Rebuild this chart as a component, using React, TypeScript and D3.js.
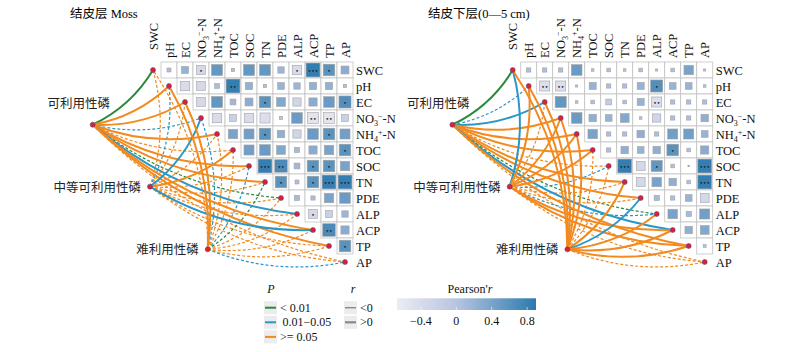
import React, { useRef, useEffect } from 'react';
import * as d3 from 'd3';

// variables of the correlation matrix (same order on top and right)
const variables = ["SWC", "pH", "EC", "NO3", "NH4", "TOC", "SOC", "TN", "PDE", "ALP", "ACP", "TP", "AP"];
// phosphorus fractions (Mantel test side)
const sources = ["可利用性磷", "中等可利用性磷", "难利用性磷"];

// Pearson r, upper triangle: row i against columns i+1..12
const mossR = [
  [0.07, 0.22, -0.36, 0.54, 0.05, 0.54, 0.54, 0.18, -0.4, 0.86, 0.6, 0.28],
  [-0.4, -0.35, 0.1, 0.85, 0.24, 0.05, 0.2, 0.18, 0.24, 0.24, 0.05],
  [-0.35, 0.55, 0.15, 0.28, 0.6, 0.35, -0.3, 0.3, 0.5, 0.65],
  [-0.4, -0.2, -0.4, -0.45, -0.05, 0.5, -0.55, -0.55, -0.2],
  [0.4, 0.45, 0.6, 0.25, -0.3, 0.5, 0.6, 0.45],
  [0.45, 0.5, 0.35, 0.12, 0.3, 0.4, 0.6],
  [0.85, 0.7, 0.15, 0.6, 0.6, 0.4],
  [0.6, 0.07, 0.6, 0.85, 0.85],
  [0.12, 0.08, 0.4, 0.5],
  [-0.35, -0.2, 0.18],
  [0.7, 0.3],
  [0.6],
];
// number of significance marks
const mossStars = [
  [0, 0, 1, 0, 0, 0, 0, 0, 1, 3, 1, 0],
  [0, 0, 0, 2, 0, 0, 0, 0, 0, 0, 0],
  [0, 0, 0, 0, 1, 0, 0, 0, 0, 1],
  [0, 0, 0, 0, 0, 0, 2, 2, 0],
  [0, 0, 1, 0, 0, 0, 1, 0],
  [0, 0, 0, 0, 0, 0, 1],
  [3, 2, 0, 1, 1, 0],
  [1, 0, 1, 3, 3],
  [0, 0, 0, 0],
  [1, 0, 0],
  [2, 0],
  [1],
];

const crustR = [
  [0.08, 0.08, 0.08, 0.5, 0.03, 0.06, 0.03, 0.06, 0.02, 0.06, 0.4, 0.02],
  [-0.45, -0.45, 0.02, 0.22, 0.08, 0.08, 0.22, 0.65, 0.2, 0.2, 0.03],
  [0.55, 0.03, 0.06, -0.15, 0.06, 0.22, -0.45, 0.08, 0.08, 0.08],
  [0.5, 0.25, 0.2, 0.35, 0.03, -0.3, 0.08, 0.08, 0.25],
  [0.4, 0.08, 0.08, 0.25, 0.08, 0.45, 0.45, 0.2],
  [0.08, 0.25, 0.2, 0.25, 0.6, 0.06, 0.3],
  [0.85, -0.35, 0.55, 0.06, 0.01, 0.85],
  [-0.35, 0.4, 0.25, 0.06, 0.85],
  [0.12, 0.08, 0.2, -0.35],
  [0.4, 0.12, 0.45],
  [0.25, 0.35],
  [0.04],
];
const crustStars = [
  [0, 0, 0, 0, 0, 0, 0, 0, 0, 0, 0, 0],
  [2, 2, 0, 0, 0, 0, 0, 1, 0, 0, 0],
  [0, 0, 0, 0, 0, 0, 2, 0, 0, 0],
  [0, 0, 0, 0, 0, 0, 0, 0, 0],
  [0, 0, 0, 0, 0, 0, 0, 0],
  [0, 0, 0, 0, 1, 0, 0],
  [3, 0, 1, 0, 0, 3],
  [0, 0, 0, 0, 3],
  [0, 0, 0, 0],
  [0, 0, 0],
  [0, 0],
  [0],
];

// Mantel test: P class (0: <0.01, 1: 0.01-0.05, 2: >=0.05), r sign (1: >0, -1: <0)
const mossMantelP = [
  [0, 2, 2, 1, 2, 2, 2, 2, 0, 1, 2, 2, 2],
  [2, 1, 2, 1, 2, 2, 2, 2, 2, 2, 1, 2, 2],
  [2, 2, 2, 1, 2, 2, 1, 0, 2, 2, 2, 2, 1],
];
const mossMantelSign = [
  [1, 1, 1, -1, 1, -1, 1, 1, -1, 1, 1, 1, -1],
  [-1, -1, -1, 1, -1, 1, -1, -1, -1, -1, 1, -1, -1],
  [-1, 1, 1, -1, -1, -1, -1, -1, -1, -1, -1, -1, -1],
];
const crustMantelP = [
  [0, 1, 1, 2, 2, 2, 2, 2, 2, 0, 1, 2, 2],
  [1, 2, 2, 2, 2, 2, 1, 2, 2, 1, 2, 2, 2],
  [2, 2, 2, 2, 2, 2, 2, 2, 1, 2, 2, 2, 2],
];
const crustMantelSign = [
  [1, -1, 1, 1, 1, 1, -1, 1, 1, -1, 1, 1, -1],
  [1, 1, -1, 1, 1, 1, -1, -1, -1, -1, 1, 1, -1],
  [1, 1, 1, 1, 1, -1, -1, 1, 1, 1, 1, 1, -1],
];

const pLabels = ["< 0.01", "0.01\u22120.05", ">= 0.05"];
const rLabels = ["<0", ">0"];
const colorbarTicks = [-0.4, 0, 0.4, 0.8];

const pColors = ["#2a8a3c", "#2a97c6", "#f28a1f"];
const serif = "'Liberation Serif', 'Times New Roman', 'Noto Sans CJK SC', serif";
const cjk = "'Liberation Serif', 'Noto Sans CJK SC', serif";

const cell = 16;
// source node positions in cell units from grid top-left
const srcLayout = [[-3.27, 3.92], [0.31, 7.79], [3.92, 11.71]];
const bend = 0.15;

const fill = d3.scaleLinear<string>()
  .domain([-0.67, 0, 0.94])
  .range(["#ecebf4", "#b7c5e0", "#2676ad"])
  .interpolate(d3.interpolateRgb)
  .clamp(true);

// writes a variable name, with sub/superscripts for the nitrogen forms
function writeName(text: any, name: string) {
  const small = 8;
  if (name === "NO3" || name === "NH4") {
    text.append("tspan").text(name.slice(0, 2));
    text.append("tspan").attr("font-size", small).attr("dy", 3).text(name.slice(2));
    text.append("tspan").attr("font-size", small).attr("dy", -7).text(name === "NO3" ? "\u2212" : "+");
    text.append("tspan").attr("dy", 4).text("-N");
  } else {
    text.text(name);
  }
}

function drawPanel(svg: any, x0: number, y0: number, rMat: number[][], stars: number[][],
  mantelP: number[][], mantelSign: number[][], title: string, titleX: number) {
  const g = svg.append("g");
  const n = variables.length;
  const x = d3.scaleBand().domain(variables).range([x0, x0 + n * cell]);
  const y = d3.scaleBand().domain(variables).range([y0, y0 + n * cell]);
  const ux = d3.scaleLinear().domain([0, 1]).range([x0, x0 + cell]);
  const uy = d3.scaleLinear().domain([0, 1]).range([y0, y0 + cell]);
  const size = d3.scaleSqrt().domain([0, 1]).range([0, 15]);

  g.append("text")
    .attr("x", titleX).attr("y", 14)
    .attr("dominant-baseline", "central")
    .attr("font-family", cjk).attr("font-size", 12.5)
    .text(title);

  // links
  const targets = variables.map(v => [x(v)! + cell / 2, y(v)! + cell / 2]);
  const srcPts = srcLayout.map(([a, b]) => [ux(a), uy(b)]);
  const links: any[] = [];
  mantelP.forEach((row, s) => row.forEach((p, t) => {
    links.push({ s, t, p, sign: mantelSign[s][t] });
  }));
  links.sort((a, b) => (a.sign - b.sign));
  g.append("g").selectAll("path")
    .data(links)
    .join("path")
    .attr("d", (d: any) => {
      const [sx, sy] = srcPts[d.s];
      const [tx, ty] = targets[d.t];
      const dx = tx - sx, dy = ty - sy;
      const path = d3.path();
      path.moveTo(sx, sy);
      path.quadraticCurveTo((sx + tx) / 2 - dy * bend, (sy + ty) / 2 + dx * bend, tx, ty);
      return path.toString();
    })
    .attr("fill", "none")
    .attr("stroke", (d: any) => pColors[d.p])
    .attr("stroke-width", (d: any) => d.sign > 0 ? 2 : 1.2)
    .attr("stroke-dasharray", (d: any) => d.sign > 0 ? null : "3,2");

  // matrix cells
  const cells: any[] = [];
  rMat.forEach((row, i) => row.forEach((r, k) => {
    cells.push({ row: variables[i], col: variables[i + 1 + k], r, stars: stars[i][k] });
  }));
  const cg = g.append("g").selectAll("g").data(cells).join("g");
  cg.append("rect")
    .attr("x", (d: any) => x(d.col)).attr("y", (d: any) => y(d.row))
    .attr("width", cell).attr("height", cell)
    .attr("fill", "#fff").attr("stroke", "#c2c2c2").attr("stroke-width", 0.8);
  cg.append("rect")
    .attr("x", (d: any) => x(d.col)! + (cell - size(Math.abs(d.r))) / 2)
    .attr("y", (d: any) => y(d.row)! + (cell - size(Math.abs(d.r))) / 2)
    .attr("width", (d: any) => size(Math.abs(d.r)))
    .attr("height", (d: any) => size(Math.abs(d.r)))
    .attr("fill", (d: any) => fill(d.r))
    .attr("stroke", "#a3a3a3").attr("stroke-width", 0.6);
  cg.filter((d: any) => d.stars > 0).append("text")
    .attr("x", (d: any) => x(d.col)! + cell / 2)
    .attr("y", (d: any) => y(d.row)! + cell / 2 + 0.5)
    .attr("text-anchor", "middle").attr("dominant-baseline", "central")
    .attr("font-size", 6).attr("fill", "#222")
    .attr("font-family", "'DejaVu Sans', sans-serif")
    .text((d: any) => "\u2022".repeat(d.stars));

  // top labels
  variables.forEach((v, i) => {
    const t = g.append("text")
      .attr("transform", `translate(${x(v)! + cell / 2 + 4.5},${i === 0 ? 50 : 58}) rotate(-90)`)
      .attr("font-family", serif).attr("font-size", 12.5).attr("fill", "#111");
    writeName(t, v);
  });
  // right labels
  variables.forEach(v => {
    const t = g.append("text")
      .attr("x", x0 + n * cell + 3).attr("y", y(v)! + cell / 2 + 4.5)
      .attr("font-family", serif).attr("font-size", 12.5).attr("fill", "#111");
    writeName(t, v);
  });

  // nodes
  g.append("g").selectAll("circle")
    .data([...targets, ...srcPts])
    .join("circle")
    .attr("cx", (d: any) => d[0]).attr("cy", (d: any) => d[1])
    .attr("r", 2.5)
    .attr("fill", "#e0202c").attr("stroke", "#5a4a9a").attr("stroke-width", 0.6);

  // source labels
  sources.forEach((s, i) => {
    const [sx, sy] = srcPts[i];
    g.append("text")
      .attr("x", i === 0 ? sx - 14 : sx - 9)
      .attr("y", i === 0 ? sy - 21 : sy + 1)
      .attr("text-anchor", i === 0 ? "middle" : "end")
      .attr("dominant-baseline", "central")
      .attr("font-family", cjk).attr("font-size", 12.5)
      .attr("fill", "#222")
      .text(s);
  });
}

function drawLegend(svg: any) {
  const g = svg.append("g").attr("font-family", serif).attr("font-size", 12).attr("fill", "#111");
  const ky = d3.scaleLinear().domain([0, 1]).range([307.7, 322.3]);

  g.append("text").attr("x", 271).attr("y", 289).attr("text-anchor", "middle")
    .attr("dominant-baseline", "central").attr("font-style", "italic").text("P");
  pLabels.forEach((lab, i) => {
    g.append("rect").attr("x", 264).attr("y", ky(i) - 6.5).attr("width", 13).attr("height", 13).attr("fill", "#ececec");
    g.append("line").attr("x1", 265).attr("x2", 276).attr("y1", ky(i)).attr("y2", ky(i))
      .attr("stroke", pColors[i]).attr("stroke-width", 2);
    g.append("text").attr("x", i === 1 ? 282.5 : 280).attr("y", ky(i)).attr("dominant-baseline", "central").text(lab);
  });

  g.append("text").attr("x", 353).attr("y", 289).attr("text-anchor", "middle")
    .attr("dominant-baseline", "central").attr("font-style", "italic").text("r");
  rLabels.forEach((lab, i) => {
    g.append("rect").attr("x", 344).attr("y", ky(i) - 6.5).attr("width", 13).attr("height", 13).attr("fill", "#ececec");
    g.append("line").attr("x1", 345).attr("x2", 356).attr("y1", ky(i)).attr("y2", ky(i))
      .attr("stroke", "#8a8a8a").attr("stroke-width", i === 0 ? 1.4 : 2.2);
    g.append("text").attr("x", 360).attr("y", ky(i)).attr("dominant-baseline", "central").text(lab);
  });

  // colour bar
  const cx = d3.scaleLinear().domain([-0.67, 0.9]).range([397, 536]);
  const grad = svg.append("defs").append("linearGradient").attr("id", "cbar");
  d3.range(0, 1.0001, 0.05).forEach(t => {
    const v = -0.67 + t * (0.9 + 0.67);
    grad.append("stop").attr("offset", `${t * 100}%`).attr("stop-color", fill(v));
  });
  g.append("rect").attr("x", 397).attr("y", 298.3).attr("width", 139).attr("height", 11.7).attr("fill", "url(#cbar)");
  const title = g.append("text").attr("x", 470).attr("y", 289).attr("text-anchor", "middle")
    .attr("dominant-baseline", "central");
  title.append("tspan").text("Pearson'");
  title.append("tspan").attr("font-style", "italic").text("r");
  colorbarTicks.forEach(v => {
    g.append("line").attr("x1", cx(v)).attr("x2", cx(v)).attr("y1", 307).attr("y2", 310).attr("stroke", "#fff").attr("stroke-width", 0.6);
    g.append("text").attr("x", cx(v)).attr("y", 321).attr("text-anchor", "middle")
      .attr("dominant-baseline", "central").text(v === 0 ? "0" : d3.format(".1f")(v).replace("-", "\u2212"));
  });
}

export default function App() {
  const ref = useRef<SVGSVGElement>(null);

  useEffect(() => {
    const svg = d3.select(ref.current);
    svg.selectAll("*").remove();
    drawPanel(svg, 145, 62, mossR, mossStars, mossMantelP, mossMantelSign, "结皮层 Moss", 70);
    drawPanel(svg, 504.7, 62, crustR, crustStars, crustMantelP, crustMantelSign, "结皮下层(0\u20145 cm)", 428);
    drawLegend(svg);
  }, []);

  return (
    <svg ref={ref} width={800} height={352}
      style={{ position: 'absolute', left: 0, top: 0, background: '#fff' }} />
  );
}
